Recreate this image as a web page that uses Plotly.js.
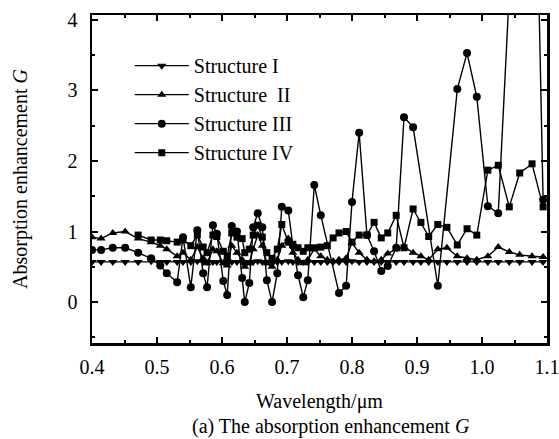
<!DOCTYPE html>
<html>
<head>
<meta charset="utf-8">
<script src="https://cdn.plot.ly/plotly-3.0.1.min.js"></script>
<style>html,body{margin:0;padding:0;background:#fff;}#chart{width:559px;height:439px;}</style>
</head>
<body>
<div id="chart"></div>
<script>
// Wavelength grid (μm)
var wavelength = [0.400,0.414,0.432,0.451,0.471,0.491,0.505,0.515,0.531,0.540,
  0.552,0.562,0.571,0.577,0.586,0.592,0.602,0.608,0.615,0.623,
  0.631,0.635,0.642,0.648,0.655,0.662,0.669,0.677,0.685,0.692,
  0.702,0.709,0.717,0.725,0.732,0.742,0.752,0.762,0.771,0.780,
  0.791,0.800,0.811,0.823,0.834,0.845,0.855,0.868,0.880,0.894,
  0.906,0.918,0.932,0.946,0.962,0.977,0.992,1.009,1.025,1.042,
  1.058,1.077,1.094];

var xTickVals = [0.4,0.5,0.6,0.7,0.8,0.9,1.0,1.1];
var xTickText = ['0.4','0.5','0.6','0.7','0.8','0.9','1.0','1.1'];

var structure1 = [0.57,0.57,0.57,0.57,0.57,0.58,0.57,0.57,0.57,0.57,
  0.57,0.58,0.57,0.57,0.57,0.57,0.57,0.58,0.57,0.57,
  0.57,0.57,0.57,0.57,0.58,0.57,0.57,0.57,0.57,0.57,
  0.58,0.57,0.57,0.57,0.57,0.57,0.57,0.57,0.57,0.57,
  0.57,0.58,0.57,0.57,0.57,0.57,0.57,0.57,0.57,0.57,
  0.57,0.57,0.57,0.57,0.57,0.57,0.57,0.57,0.57,0.57,
  0.57,0.57,0.57];

var structure2 = [0.92,0.90,0.98,1.00,0.90,0.85,0.80,0.75,0.65,0.70,
  0.60,0.78,0.62,0.55,0.75,0.72,0.55,0.52,0.80,0.70,
  0.60,0.50,0.55,0.75,0.95,0.80,0.55,0.50,0.60,0.80,
  0.90,0.70,0.60,0.55,0.60,0.75,0.65,0.60,0.58,0.60,
  0.62,0.84,0.70,0.60,0.58,0.60,0.69,0.75,0.78,0.70,
  0.65,0.60,0.75,0.77,0.65,0.62,0.60,0.65,0.78,0.71,
  0.67,0.65,0.64];

var structure3 = [0.74,0.74,0.77,0.77,0.70,0.62,0.52,0.41,0.28,0.92,
  0.21,1.02,0.41,0.21,1.09,0.97,0.30,0.10,1.08,1.00,
  0.34,0.00,0.27,1.06,1.26,1.06,0.31,0.00,0.41,1.35,
  1.30,0.80,0.38,0.07,0.31,1.66,1.23,null,null,0.13,
  0.23,1.42,2.40,0.95,0.72,0.44,0.51,0.77,2.62,2.48,
  null,null,0.23,null,3.02,3.53,2.91,1.36,1.26,4.40,
  6.50,9.00,1.45];

var structure4 = [null,null,null,null,0.95,0.88,0.88,0.87,0.85,0.88,
  0.80,0.95,0.78,0.70,0.95,0.93,0.72,0.65,0.98,0.92,
  0.90,0.70,0.75,0.95,1.09,0.92,0.70,0.62,0.75,1.10,
  0.85,0.82,0.77,0.72,0.77,0.77,0.78,0.80,0.91,0.98,
  1.00,0.85,0.95,0.95,1.13,0.91,0.98,1.23,0.77,1.32,
  1.13,0.93,1.10,1.06,0.81,1.04,0.95,1.87,1.94,1.35,
  1.83,1.96,1.35];

var names = ['Structure I','Structure  II','Structure III','Structure IV'];
var symbols = ['triangle-down','triangle-up','circle','square'];
var series = [structure1, structure2, structure3, structure4];

var font = 'Liberation Serif, Times New Roman, serif';
var traces = series.map(function(s, i){
  return {
    x: wavelength, y: s, name: names[i], type: 'scatter', mode: 'lines+markers',
    connectgaps: true,
    line: {color: '#000', width: 1.4},
    marker: {symbol: symbols[i], color: '#000', size: i === 3 ? 7 : 8}
  };
});

var layout = {
  width: 559, height: 439,
  margin: {l: 92, r: 12, t: 15, b: 96},
  paper_bgcolor: '#fff', plot_bgcolor: '#fff',
  font: {family: font, color: '#000', size: 20},
  showlegend: true,
  legend: {x: 0.083, y: 0.905, xanchor: 'left', yanchor: 'top',
    bgcolor: 'rgba(0,0,0,0)', font: {family: font, size: 20, color: '#000'},
    itemwidth: 54, tracegroupgap: 0},
  xaxis: {
    range: [0.4, 1.1], tickvals: xTickVals, ticktext: xTickText,
    ticks: 'inside', ticklen: 6, tickwidth: 2, tickcolor: '#000',
    minor: {dtick: 0.05, tick0: 0.4, ticks: 'inside', ticklen: 3, tickwidth: 2, tickcolor: '#000'},
    showline: true, linewidth: 2.5, linecolor: '#000', mirror: 'ticks',
    showgrid: false, zeroline: false, ticklabelstandoff: 4, ticklabeloverflow: 'allow',
    tickfont: {family: font, size: 20},
    title: {text: 'Wavelength/μm', font: {family: font, size: 20}, standoff: 18}
  },
  yaxis: {
    range: [-0.58, 4.07], dtick: 1, tick0: 0,
    ticks: 'inside', ticklen: 6, tickwidth: 2, tickcolor: '#000',
    minor: {dtick: 0.5, ticks: 'inside', ticklen: 3, tickwidth: 2, tickcolor: '#000'},
    showline: true, linewidth: 2.5, linecolor: '#000', mirror: 'ticks',
    showgrid: false, zeroline: false, ticklabelstandoff: 8, ticklabeloverflow: 'allow',
    tickfont: {family: font, size: 20},
    title: {text: 'Absorption enhancement <i>G</i>', font: {family: font, size: 20}, standoff: 35}
  },
  annotations: [{
    text: '(a) The absorption enhancement <i>G</i>',
    xref: 'paper', yref: 'paper', x: 0.525, y: -0.255,
    xanchor: 'center', yanchor: 'middle', showarrow: false,
    font: {family: font, size: 20, color: '#000'}
  }]
};

Plotly.newPlot('chart', traces, layout, {displayModeBar: false, staticPlot: true});
</script>
</body>
</html>
